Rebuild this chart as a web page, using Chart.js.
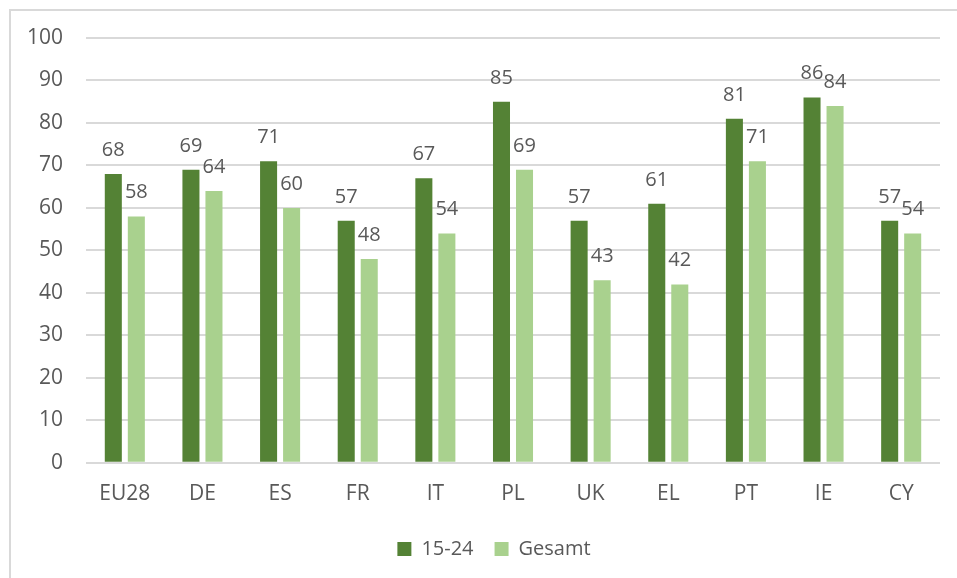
<!DOCTYPE html>
<html>
<head>
<meta charset="utf-8">
<script src="https://cdn.jsdelivr.net/npm/chart.js@4.4.1/dist/chart.umd.min.js"></script>
<style>
html,body{margin:0;padding:0;background:#fff;}
#wrap{position:absolute;left:0;top:0;width:957px;height:578px;}
</style>
</head>
<body>
<div id="wrap"><canvas id="c" width="957" height="578"></canvas></div>
<script>
const categories = ["EU28","DE","ES","FR","IT","PL","UK","EL","PT","IE","CY"];
const youth = [68,69,71,57,67,85,57,61,81,86,57];
const total = [58,64,60,48,54,69,43,42,71,84,54];
const seriesNames = ["15-24","Gesamt"];
const yTicks = [0,10,20,30,40,50,60,70,80,90,100];

const FONT = "'Open Sans', 'Liberation Sans', sans-serif";
const TEXT = "#595959";

const borderPlugin = {
  id: 'frame',
  beforeDraw(chart) {
    const ctx = chart.ctx;
    ctx.save();
    ctx.fillStyle = '#fff';
    ctx.fillRect(0,0,chart.width,chart.height);
    ctx.strokeStyle = '#d9d9d9';
    ctx.lineWidth = 2;
    ctx.strokeRect(10, 10, 1200, 1200);
    ctx.restore();
  }
};

const legendShift = {
  id: 'legendShift',
  afterLayout(chart) {
    const lg = chart.legend;
    if (lg) { lg.left += 24; lg.right += 24; }
  }
};

const labelPlugin = {
  id: 'vlabels',
  afterDatasetsDraw(chart) {
    const ctx = chart.ctx;
    ctx.save();
    ctx.font = "20px " + FONT;
    ctx.fillStyle = TEXT;
    ctx.textAlign = 'center';
    ctx.textBaseline = 'alphabetic';
    chart.data.datasets.forEach((ds, i) => {
      const meta = chart.getDatasetMeta(i);
      meta.data.forEach((el, j) => {
        ctx.fillText(String(ds.data[j]), el.x, el.y - 18);
      });
    });
    ctx.restore();
  }
};

new Chart(document.getElementById('c'), {
  type: 'bar',
  data: {
    labels: categories,
    datasets: [
      { label: seriesNames[0], data: youth, backgroundColor: '#548235', categoryPercentage: 0.593, barPercentage: 0.74 },
      { label: seriesNames[1], data: total, backgroundColor: '#A9D18E', categoryPercentage: 0.593, barPercentage: 0.74 }
    ]
  },
  options: {
    responsive: false,
    animation: false,
    devicePixelRatio: 1,
    layout: { padding: { left: 0, right: 17, top: 38, bottom: 9 } },
    plugins: {
      legend: {
        position: 'bottom',
        labels: { color: TEXT, font: { family: FONT, size: 20 }, boxWidth: 14, boxHeight: 14, padding: 21 }
      },
      tooltip: { enabled: false }
    },
    scales: {
      x: {
        grid: { display: false },
        border: { display: false },
        ticks: { color: TEXT, font: { family: FONT, size: 21 }, padding: 11, maxRotation: 0 }
      },
      y: {
        min: 0, max: 100,
        afterBuildTicks(scale) { scale.ticks = yTicks.map(v => ({ value: v })); },
        afterFit(scale) { scale.width = 86; },
        grid: { color: '#d9d9d9', lineWidth: 2, drawTicks: false },
        border: { display: false },
        ticks: { color: TEXT, font: { family: FONT, size: 21 }, padding: 23 }
      }
    }
  },
  plugins: [borderPlugin, legendShift, labelPlugin]
});
</script>
</body>
</html>
